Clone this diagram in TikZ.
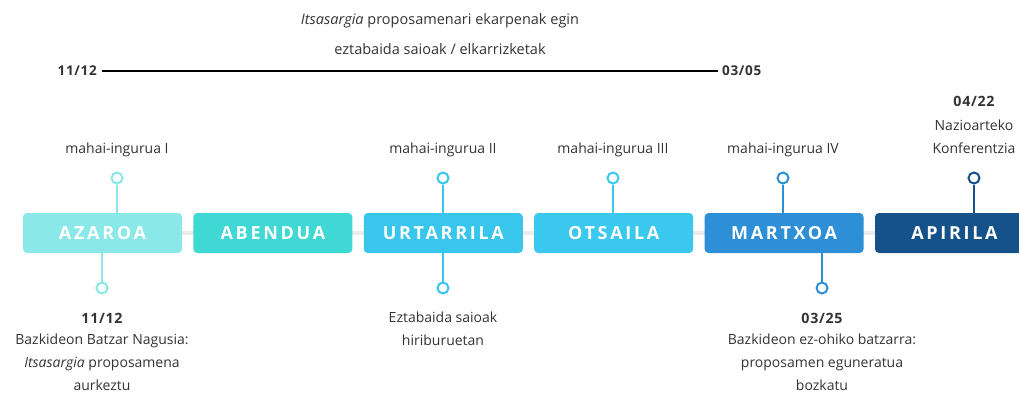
\documentclass[tikz,border=0pt]{standalone}
\usepackage{fontspec}
\setmainfont{Open Sans}
\newfontfamily\monthfont[LetterSpace=15]{Open Sans}
\newfontfamily\datefont[LetterSpace=5]{Open Sans}
\usetikzlibrary{positioning, backgrounds}

\definecolor{azaroacol}{HTML}{8BE8E8}
\definecolor{abenduacol}{HTML}{3FD8D5}
\definecolor{urtarrilacol}{HTML}{38C6EC}
\definecolor{otsailacol}{HTML}{3AC8EE}
\definecolor{martxoacol}{HTML}{2D8FD5}
\definecolor{apirilacol}{HTML}{155289}
\definecolor{textcol}{HTML}{333333}

\tikzset{
  month/.style={fill=#1, rounded corners=4pt, minimum width=159pt, minimum height=40pt,
    text=white, font=\monthfont\bfseries\fontsize{18}{20}\selectfont, inner sep=0pt},
  pin/.style={draw=#1, line width=2pt, circle, fill=white, minimum size=11pt, inner sep=0pt},
  stem/.style={draw=#1, line width=2pt},
  label/.style={text=textcol, font=\fontsize{14}{22.7}\selectfont, align=center, inner sep=0pt},
  datelbl/.style={text=textcol, font=\datefont\bfseries\fontsize{14.2}{22.7}\selectfont, inner sep=0pt},
  toplbl/.style={text=textcol, font=\fontsize{14.5}{20}\selectfont, inner sep=0pt}
}

\begin{document}
\begin{tikzpicture}[x=1pt, y=-1pt]
\useasboundingbox (0,0) rectangle (1019,392);

% Top period
\node[toplbl] (toptitle) at (440,21) {\textit{Itsasargia} proposamenari ekarpenak egin};
\node[toplbl] (topsub) at (440,49) {eztabaida saioak / elkarrizketak};
\node[datelbl, font=\datefont\bfseries\fontsize{13.5}{20}\selectfont, anchor=east] (start) at (97,71) {11/12};
\node[datelbl, font=\datefont\bfseries\fontsize{13.5}{20}\selectfont, anchor=west] (end) at (722,71) {03/05};
\draw[line width=2.5pt, black] ([xshift=-4pt]end.west) -- ([xshift=5pt]start.east);

% Months
\node[month=azaroacol] (azaroa) at (102.5,233) {AZAROA};
\node[month=abenduacol, right=11pt of azaroa] (abendua) {ABENDUA};
\node[month=urtarrilacol, right=11pt of abendua] (urtarrila) {URTARRILA};
\node[month=otsailacol, right=11pt of urtarrila] (otsaila) {OTSAILA};
\node[month=martxoacol, right=11pt of otsaila] (martxoa) {MARTXOA};
\node[month=apirilacol, right=11pt of martxoa] (apirila) {APIRILA};
\begin{scope}[on background layer]
\draw[line width=4pt, black!8] (azaroa.center) -- (apirila.center);
\end{scope}

% Pins above
\node[pin=azaroacol] (pinA) at (117,178) {};
\node[pin=urtarrilacol] (pinU) at (443,178) {};
\node[pin=otsailacol] (pinO) at (613,178) {};
\node[pin=martxoacol] (pinM) at (783,178) {};
\node[pin=apirilacol] (pinP) at (974,178) {};
\draw[stem=azaroacol] (pinA) -- (pinA |- azaroa.north);
\draw[stem=urtarrilacol] (pinU) -- (pinU |- urtarrila.north);
\draw[stem=otsailacol] (pinO) -- (pinO |- otsaila.north);
\draw[stem=martxoacol] (pinM) -- (pinM |- martxoa.north);
\draw[stem=apirilacol] (pinP) -- (pinP |- apirila.north);

% Pins below
\node[pin=azaroacol] (pinAb) at (102,288) {};
\node[pin=urtarrilacol] (pinUb) at (443,288) {};
\node[pin=martxoacol] (pinMb) at (822,288) {};
\draw[stem=azaroacol] (pinAb) -- (pinAb |- azaroa.south);
\draw[stem=urtarrilacol] (pinUb) -- (pinUb |- urtarrila.south);
\draw[stem=martxoacol] (pinMb) -- (pinMb |- martxoa.south);

% Labels above
\node[label] (lblA) at (117,150) {mahai-ingurua I};
\node[label] (lblU) at (443,150) {mahai-ingurua II};
\node[label] (lblO) at (613,150) {mahai-ingurua III};
\node[label] (lblM) at (783,150) {mahai-ingurua IV};
\node[datelbl] (dateP) at (974,101) {04/22};
\node[label, anchor=north] (lblP) at (974,120) {Nazioarteko\\Konferentzia};

% Labels below
\node[datelbl] (dateAb) at (102,318) {11/12};
\node[label, anchor=north] (lblAb) at (102,334) {Bazkideon Batzar Nagusia:\\\textit{Itsasargia} proposamena\\aurkeztu};
\node[label, anchor=north] (lblUb) at (443,312) {Eztabaida saioak\\hiriburuetan};
\node[datelbl] (dateMb) at (822,318) {03/25};
\node[label, anchor=north] (lblMb) at (822,334) {Bazkideon ez-ohiko batzarra:\\proposamen eguneratua\\bozkatu};
\end{tikzpicture}
\end{document}
